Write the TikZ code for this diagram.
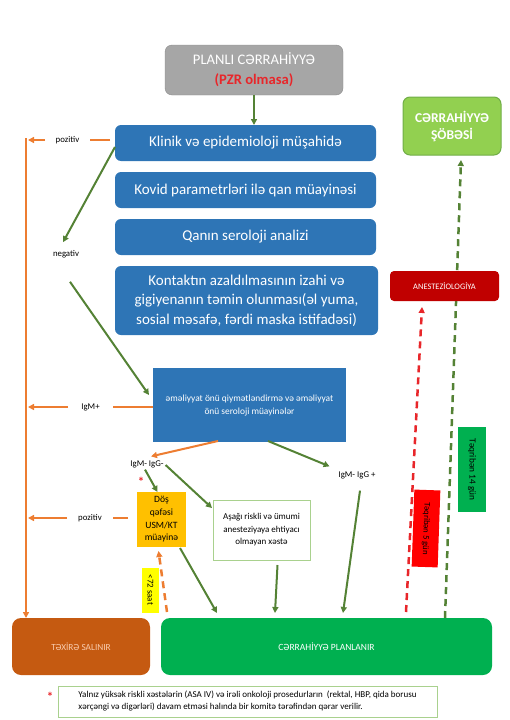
\documentclass[tikz,border=0pt]{standalone}
\usepackage{fontspec}
\setmainfont{Carlito}
\usetikzlibrary{arrows.meta,calc}
\definecolor{blueB}{HTML}{2E75B6}
\definecolor{grayF}{HTML}{A6A6A6}
\definecolor{grayB}{HTML}{8C8C8C}
\definecolor{redT}{HTML}{E8262A}
\definecolor{arrowG}{HTML}{548235}
\definecolor{orangeL}{HTML}{ED7D31}
\definecolor{cerrF}{HTML}{92D050}
\definecolor{cerrB}{HTML}{70AD47}
\definecolor{anestF}{HTML}{C00000}
\definecolor{dosF}{HTML}{FFC000}
\definecolor{texF}{HTML}{C55A11}
\definecolor{texT}{HTML}{F8CBAD}
\definecolor{planF}{HTML}{00B050}
\definecolor{footB}{HTML}{A9D18E}
\definecolor{redL}{HTML}{FF0000}
\definecolor{redD}{HTML}{E8262A}
\definecolor{yelL}{HTML}{FFFF00}
\begin{document}
\begin{tikzpicture}[x=1pt,y=-1pt,
  every node/.style={inner sep=0pt, outer sep=0pt},
  bluebox/.style={fill=blueB, rounded corners=6pt, text=white, align=center,
    font=\fontsize{15}{19.5}\selectfont, minimum width=261pt, minimum height=36pt},
  garrow/.style={draw=arrowG, line width=2pt, -{Triangle[length=6pt,width=6pt]}},
  gdash/.style={garrow, dash pattern=on 7pt off 5pt, line width=2.5pt},
  rdash/.style={draw=redD, line width=2.5pt, dash pattern=on 7pt off 5pt, -{Triangle[length=6pt,width=6pt]}},
  oline/.style={draw=orangeL, line width=2pt},
  oarrow/.style={oline, -{Triangle[length=6pt,width=6pt]}},
  odash/.style={oarrow, dash pattern=on 7pt off 5pt, line width=2.5pt},
  lbl/.style={font=\fontsize{8.8}{10}\selectfont, text=black},
  gaplbl/.style={lbl, minimum height=10pt},
  rotlbl/.style={font=\fontsize{9.3}{10}\selectfont, text=black, rotate=-90}
]
\useasboundingbox (0,0) rectangle (509,720);

% top
\node[draw=grayB, fill=grayF, rounded corners=7pt, minimum width=178pt, minimum height=50pt,
  align=center, text=white, font=\fontsize{14.6}{20}\selectfont] (top) at (254,70)
  {PLANLI CƏRRAHİYYƏ\\{\color{redT}\bfseries (PZR olmasa)}};

% blue column
\node[bluebox] (klinik) at (245.5,143) {Klinik və epidemioloji müşahidə};
\node[bluebox] (kovid) at (245.5,190) {Kovid parametrləri ilə qan müayinəsi};
\node[bluebox] (qanin) at (245.5,237) {Qanın seroloji analizi};
\node[bluebox, minimum width=263pt, minimum height=69pt] (kontakt) at (246.5,300.5)
  {Kontaktın azaldılmasının izahi və\\gigiyenanın təmin olunması(əl yuma,\\sosial məsafə, fərdi maska istifadəsi)};
\node[fill=blueB, minimum width=193pt, minimum height=74pt, text=white, align=center,
  font=\fontsize{9.4}{13}\selectfont] (emel) at (249.5,405)
  {\raisebox{3pt}{\begin{tabular}{@{}c@{}}əməliyyat önü qiymətləndirmə və əməliyyat\\önü seroloji müayinələr\end{tabular}}};

% right side
\node[draw=cerrB, line width=1pt, fill=cerrF, rounded corners=7pt, minimum width=98pt, minimum height=58pt,
  align=center, text=white, font=\bfseries\fontsize{13.5}{17}\selectfont] (cerr) at (452,126)
  {CƏRRAHİYYƏ\\ŞÖBƏSİ};

% bottom boxes
\node[fill=texF, rounded corners=9pt, minimum width=138pt, minimum height=57pt, text=texT,
  font=\fontsize{9.3}{10}\selectfont] (texire) at (81,646.5) {TƏXİRƏ SALINIR};
\node[fill=planF, rounded corners=9pt, minimum width=331pt, minimum height=57pt, text=white,
  font=\fontsize{9.5}{10}\selectfont] (plan) at (326.5,646.5) {CƏRRAHİYYƏ PLANLANIR};

% green dashed line behind anesteziologiya
\draw[gdash] ($(plan.north west)+(284,0)$) -- ($(cerr.south)+(9,5)$);

\node[fill=anestF, rounded corners=4pt, minimum width=109pt, minimum height=30pt, text=white,
  font=\fontsize{8.4}{9}\selectfont] (anest) at (444.5,286) {ANESTEZİOLOGİYA};

% mid nodes
\node[fill=dosF, minimum width=49pt, minimum height=55pt, align=center,
  font=\fontsize{9.6}{12.7}\selectfont] (dos) at (161.5,519.5) {Döş\\qəfəsi\\USM/KT\\müayinə};
\node[draw=footB, fill=white, line width=0.8pt, minimum width=97pt, minimum height=60pt, align=center,
  font=\fontsize{9}{12.5}\selectfont] (asagi) at (261.5,530)
  {Aşağı riskli və ümumi\\anesteziyaya ehtiyacı\\olmayan xəstə};

% labels
\node[gaplbl, minimum width=45pt] (poz1) at (67.5,140) {pozitiv};
\node[lbl] (neg) at (66,254) {negativ};
\node[gaplbl, minimum width=45pt] (igmp1) at (90.5,407) {IgM+};
\node[lbl] (igmm) at (147,464) {IgM- IgG-};
\node[lbl] (igmgp) at (357,475) {IgM- IgG +};
\node[gaplbl, minimum width=46pt] (poz2) at (90,518) {pozitiv};
\node[text=redD, font=\bfseries\fontsize{13}{13}\selectfont] (star) at (141,482) {*};

% rotated labels
\node[rotlbl, fill=yelL, minimum width=45pt, minimum height=17pt, font=\fontsize{8.8}{10}\selectfont] (saat) at (150.5,590) {<72 saat};
\node[rotlbl, fill=planF, minimum width=85pt, minimum height=28pt] (t14) at (472,469.5) {Təqribən 14 gün};
\node[rotlbl, fill=redL, minimum width=77pt, minimum height=26pt, rotate=-2, font=\fontsize{8.6}{10}\selectfont] (t5) at (426,528.5) {Təqribən 5 gün};

% footnote
\node[draw=footB, line width=0.8pt, minimum width=379pt, minimum height=31pt,
  font=\fontsize{9}{12}\selectfont] (foot) at (247.5,701.5)
  {\begin{tabular}{@{}l@{}}Yalnız yüksək riskli xəstələrin (ASA IV) və irəli onkoloji prosedurların\ \ (rektal, HBP, qida borusu\\xərçəngi və digərləri) davam etməsi halında bir komitə tərəfindən qərar verilir.\end{tabular}};
\node[text=redD, font=\bfseries\fontsize{13}{13}\selectfont] (fstar) at (50,697) {*};

% vertical orange line
\coordinate (vtop) at (26,138);
\draw[oarrow] (vtop) -- (vtop |- texire.north);

% connectors
\draw[garrow] (top.south) -- (top.south |- klinik.north);
\draw[oline, shorten <=5pt] (klinik.west |- poz1) -- (poz1.east);
\draw[oarrow] (poz1.west) -- ($(vtop |- poz1)+(2,0)$);
\draw[garrow] ($(klinik.west)+(0,4)$) -- ($(neg.north)+(-3,-8)$);
\draw[garrow] ($(neg.south)+(4,24)$) -- ($(emel.west)+(-4,-10)$);
\draw[oline] (emel.west |- igmp1) -- (igmp1.east);
\draw[oarrow] (igmp1.west) -- ($(vtop |- igmp1)+(2,0)$);
\draw[oarrow] ($(emel.south west)+(65,-1)$) -- ($(igmm.north)+(4,-4)$);
\draw[garrow] ($(emel.south west)+(115,-1)$) -- ($(igmgp.north west)+(-9,-5)$);
\draw[garrow] ($(igmm.south)+(-2,2)$) -- ($(dos.north)+(-4,0)$);
\draw[garrow] ($(igmm.east)+(2,1)$) -- ($(asagi.north west)+(-1,8)$);
\draw[oline, shorten <=9pt] (dos.west |- poz2) -- (poz2.east);
\draw[oarrow] (poz2.west) -- ($(vtop |- poz2)+(2,0)$);
\draw[odash] ($(plan.north west)+(6,-6)$) -- ($(dos.south)+(-3,4)$);
\draw[garrow] ($(dos.south east)+(-6,1)$) -- ($(plan.north west)+(56,-5)$);
\draw[garrow] ($(asagi.south)+(16,5)$) -- ($(plan.north west)+(114,-5)$);
\draw[garrow] ($(igmgp.south)+(3,12)$) -- ($(plan.north west)+(182,-5)$);
\draw[rdash] ($(plan.north west)+(245,-6)$) -- ($(anest.south)+(-22.5,6)$);
\end{tikzpicture}
\end{document}
